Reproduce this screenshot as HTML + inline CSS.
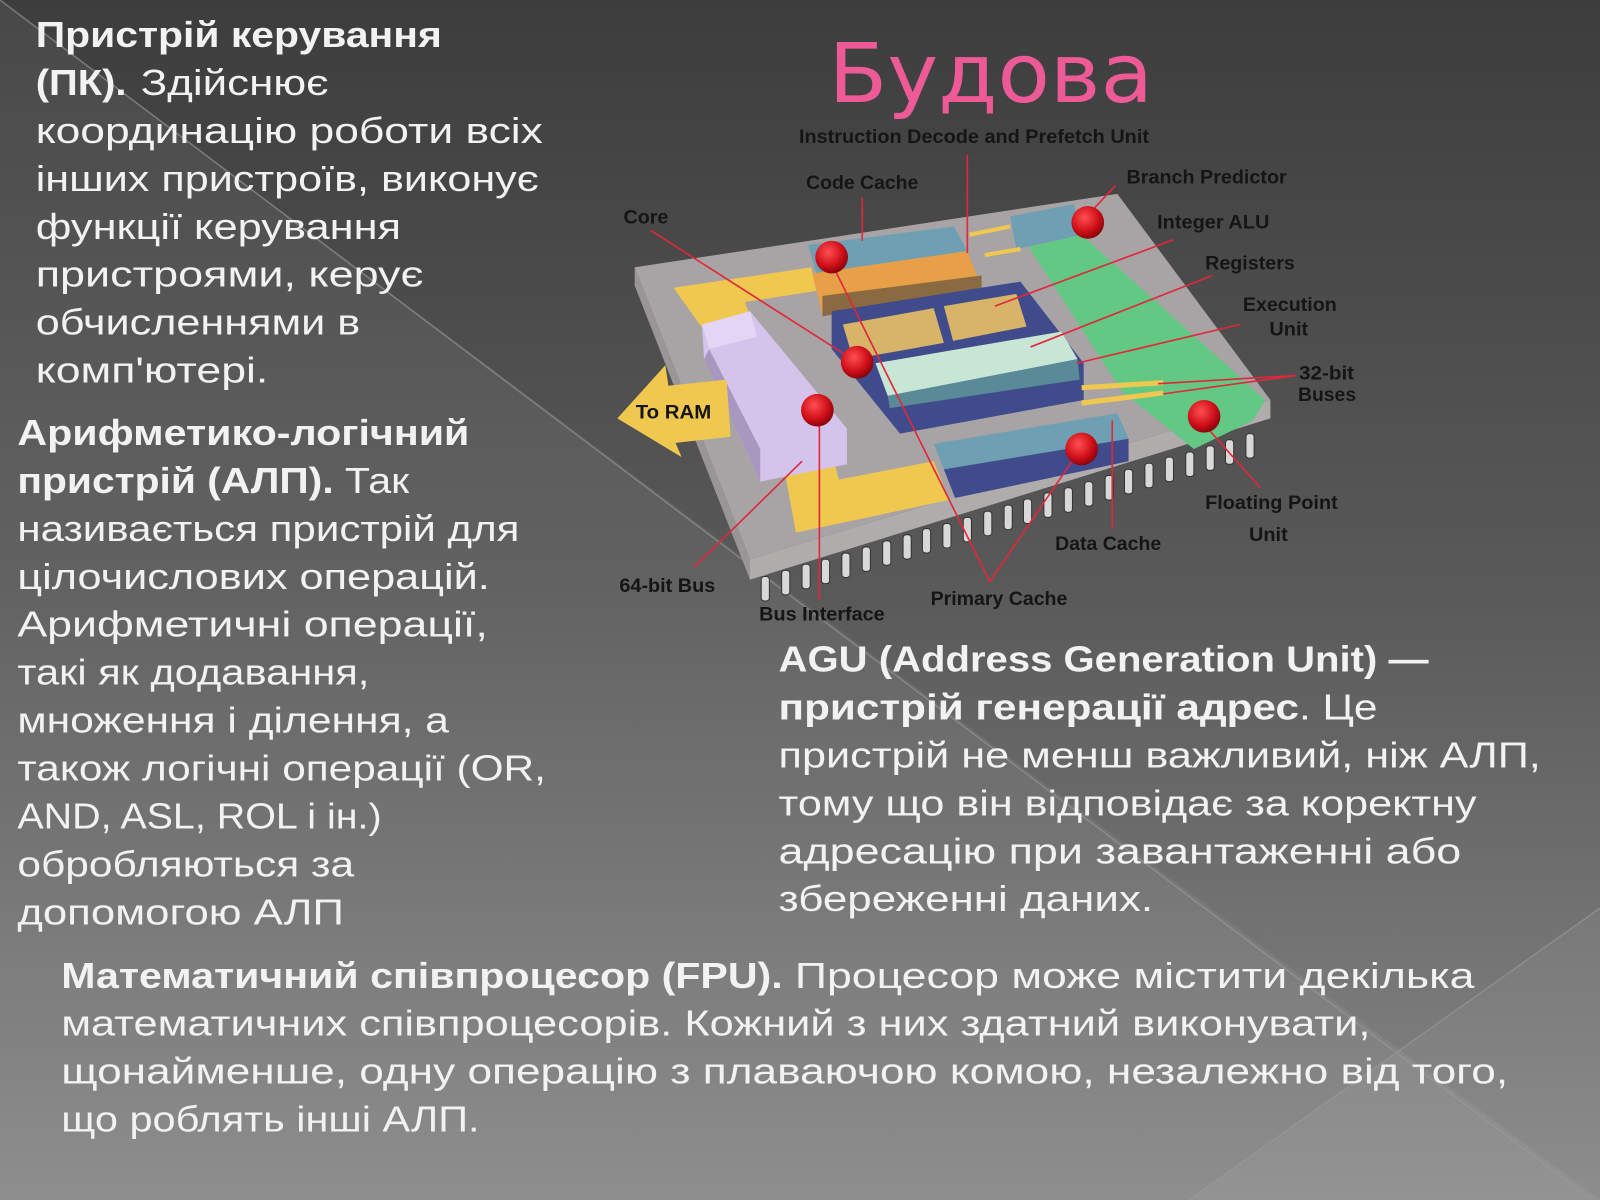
<!DOCTYPE html>
<html><head><meta charset="utf-8"><style>
html,body{margin:0;padding:0;background:#555;}
svg{display:block}
.t{font-family:"Liberation Sans","DejaVu Sans",sans-serif;fill:#f2f2f2;font-size:35px}
.b{font-weight:bold}
.l{font-family:"Liberation Sans",sans-serif;font-weight:bold;font-size:19px;fill:#151515}
</style></head><body>
<svg width="1600" height="1200" viewBox="0 0 1568 1176" xmlns="http://www.w3.org/2000/svg">
<defs>
<linearGradient id="bg" x1="0" y1="0" x2="0" y2="1">
<stop offset="0" stop-color="#3d3d3d"/><stop offset="0.5" stop-color="#5a5a5a"/><stop offset="1" stop-color="#878787"/>
</linearGradient>
<radialGradient id="ball" cx="0.4" cy="0.35" r="0.7"><stop offset="0" stop-color="#ff5050"/><stop offset="0.6" stop-color="#d0101a"/><stop offset="1" stop-color="#800008"/></radialGradient>
<g id="pin"><rect x="-4" y="0" width="8" height="24" rx="3" fill="#d8d8d8" stroke="#333" stroke-width="1"/></g>
</defs>
<rect width="1568" height="1176" fill="url(#bg)"/>
<polygon points="0,0 1568,1176 0,1176" fill="#ffffff" opacity="0.06"/>
<polygon points="1568,890 1165,1176 1568,1176" fill="#ffffff" opacity="0.05"/>
<line x1="0" y1="0" x2="1560" y2="1176" stroke="#9a9a9a" stroke-width="1.5" opacity="0.6"/>
<line x1="1165" y1="1176" x2="1568" y2="890" stroke="#9a9a9a" stroke-width="1.5" opacity="0.6"/>

<!-- title -->
<text x="812" y="100" style="font-family:'DejaVu Sans',sans-serif;font-size:80px;fill:#ee5a95" textLength="318" lengthAdjust="spacingAndGlyphs">Будова</text>

<!-- chip -->
<polygon points="622,262 735,548 735,568 622,280" fill="#9a9696"/>
<polygon points="735,548 1245,392 1245,410 735,568" fill="#b0acac"/>
<g>
<use href="#pin" x="750" y="565"/><use href="#pin" x="770" y="559"/><use href="#pin" x="790" y="553"/><use href="#pin" x="809" y="548"/><use href="#pin" x="829" y="542"/><use href="#pin" x="849" y="536"/><use href="#pin" x="869" y="530"/><use href="#pin" x="889" y="524"/><use href="#pin" x="908" y="518"/><use href="#pin" x="928" y="513"/><use href="#pin" x="948" y="507"/><use href="#pin" x="968" y="501"/><use href="#pin" x="988" y="495"/><use href="#pin" x="1007" y="489"/><use href="#pin" x="1027" y="483"/><use href="#pin" x="1047" y="478"/><use href="#pin" x="1067" y="472"/><use href="#pin" x="1087" y="466"/><use href="#pin" x="1106" y="460"/><use href="#pin" x="1126" y="454"/><use href="#pin" x="1146" y="448"/><use href="#pin" x="1166" y="443"/><use href="#pin" x="1186" y="437"/><use href="#pin" x="1205" y="431"/><use href="#pin" x="1225" y="425"/>
</g>
<polygon points="622,262 1095,190 1245,392 735,548" fill="#a8a4a6"/>
<!-- yellow bus L -->
<polygon points="660,282 795,262 800,285 730,296 745,335 705,345" fill="#f0c850"/>
<polygon points="765,440 812,432 822,470 915,452 930,490 780,522" fill="#f0c850"/>
<!-- lavender block -->
<polygon points="688,318 735,305 830,420 830,455 745,472 690,352" fill="#d4c4ec"/>
<polygon points="688,318 735,305 742,330 695,342" fill="#e2d6f4"/>
<polygon points="690,352 745,472 745,440 695,342" fill="#a898c0"/>
<!-- code cache -->
<polygon points="792,240 935,222 948,246 800,268" fill="#6f9fb2"/>
<!-- prefetch orange -->
<polygon points="796,268 948,246 962,282 806,308" fill="#e8a048"/>
<polygon points="806,290 962,270 962,282 806,310" fill="#8a6a40"/>
<!-- core frame navy -->
<polygon points="815,305 1000,276 1062,356 1062,392 882,425 815,342" fill="#404b8c"/>
<polygon points="826,318 915,302 925,336 836,352" fill="#d8b468"/>
<polygon points="925,300 996,288 1006,320 934,334" fill="#d8b468"/>
<polygon points="858,356 1040,325 1056,352 870,388" fill="#c8e6d6"/>
<polygon points="870,388 1056,352 1058,372 872,400" fill="#5a8a98"/>
<!-- branch predictor -->
<polygon points="990,212 1052,200 1062,230 996,244" fill="#6f9fb2"/>
<!-- green -->
<polygon points="1008,242 1060,230 1240,392 1228,412 1170,440 1100,384" fill="#62c884"/>
<!-- yellow small buses -->
<line x1="950" y1="230" x2="990" y2="222" stroke="#f0c850" stroke-width="4"/>
<line x1="965" y1="250" x2="1000" y2="244" stroke="#f0c850" stroke-width="4"/>
<line x1="1060" y1="380" x2="1140" y2="375" stroke="#f0c850" stroke-width="5"/>
<line x1="1060" y1="395" x2="1140" y2="385" stroke="#f0c850" stroke-width="5"/>
<!-- data cache -->
<polygon points="915,435 1095,405 1106,430 925,460" fill="#6f9fb2"/>
<polygon points="925,460 1106,430 1106,452 936,488" fill="#404b8c"/>
<!-- To RAM arrow -->
<polygon points="605,410 652,358 655,378 712,372 716,428 662,434 668,448" fill="#f0c850"/>
<text x="623" y="410" class="l" textLength="74" lengthAdjust="spacingAndGlyphs">To RAM</text>

<!-- red lines -->
<g stroke="#e0283a" stroke-width="1.6" fill="none">
<line x1="638" y1="226" x2="840" y2="355"/>
<line x1="845" y1="194" x2="845" y2="236"/>
<line x1="948" y1="152" x2="948" y2="248"/>
<line x1="1093" y1="182" x2="1065" y2="212"/>
<line x1="1150" y1="235" x2="975" y2="300"/>
<line x1="1188" y1="270" x2="1010" y2="340"/>
<line x1="1215" y1="318" x2="1055" y2="356"/>
<line x1="1270" y1="368" x2="1135" y2="376"/>
<line x1="1270" y1="368" x2="1140" y2="386"/>
<line x1="1235" y1="478" x2="1182" y2="418"/>
<line x1="1090" y1="518" x2="1090" y2="412"/>
<polyline points="815,258 970,570 1052,450"/>
<line x1="803" y1="588" x2="803" y2="405"/>
<line x1="680" y1="556" x2="786" y2="452"/>
</g>
<g fill="url(#ball)">
<circle cx="815" cy="252" r="16"/><circle cx="840" cy="355" r="16"/><circle cx="801" cy="402" r="16"/>
<circle cx="1066" cy="218" r="16"/><circle cx="1060" cy="440" r="16"/><circle cx="1180" cy="408" r="16"/>
</g>

<!-- chip labels -->
<text x="783" y="140" class="l" textLength="343" lengthAdjust="spacingAndGlyphs">Instruction Decode and Prefetch Unit</text>
<text x="790" y="185" class="l" textLength="110" lengthAdjust="spacingAndGlyphs">Code Cache</text>
<text x="1104" y="180" class="l" textLength="157" lengthAdjust="spacingAndGlyphs">Branch Predictor</text>
<text x="611" y="219" class="l" textLength="44" lengthAdjust="spacingAndGlyphs">Core</text>
<text x="1134" y="224" class="l" textLength="110" lengthAdjust="spacingAndGlyphs">Integer ALU</text>
<text x="1181" y="264" class="l" textLength="88" lengthAdjust="spacingAndGlyphs">Registers</text>
<text x="1218" y="305" class="l" textLength="92" lengthAdjust="spacingAndGlyphs">Execution</text>
<text x="1244" y="329" class="l" textLength="38" lengthAdjust="spacingAndGlyphs">Unit</text>
<text x="1273" y="372" class="l" textLength="54" lengthAdjust="spacingAndGlyphs">32-bit</text>
<text x="1272" y="393" class="l" textLength="57" lengthAdjust="spacingAndGlyphs">Buses</text>
<text x="1181" y="499" class="l" textLength="130" lengthAdjust="spacingAndGlyphs">Floating Point</text>
<text x="1224" y="530" class="l" textLength="38" lengthAdjust="spacingAndGlyphs">Unit</text>
<text x="1034" y="539" class="l" textLength="104" lengthAdjust="spacingAndGlyphs">Data Cache</text>
<text x="607" y="580" class="l" textLength="94" lengthAdjust="spacingAndGlyphs">64-bit Bus</text>
<text x="912" y="593" class="l" textLength="134" lengthAdjust="spacingAndGlyphs">Primary Cache</text>
<text x="744" y="608" class="l" textLength="123" lengthAdjust="spacingAndGlyphs">Bus Interface</text>

<!-- block 1 -->
<text class="t b" x="35" y="46" textLength="398" lengthAdjust="spacingAndGlyphs">Пристрій керування</text>
<text class="t b" x="35" y="93" textLength="89" lengthAdjust="spacingAndGlyphs">(ПК).</text>
<text class="t" x="138" y="93" textLength="184" lengthAdjust="spacingAndGlyphs">Здійснює</text>
<text class="t" x="35" y="140" textLength="497" lengthAdjust="spacingAndGlyphs">координацію роботи всіх</text>
<text class="t" x="35" y="187" textLength="493" lengthAdjust="spacingAndGlyphs">інших пристроїв, виконує</text>
<text class="t" x="35" y="234" textLength="358" lengthAdjust="spacingAndGlyphs">функції керування</text>
<text class="t" x="35" y="281" textLength="380" lengthAdjust="spacingAndGlyphs">пристроями, керує</text>
<text class="t" x="35" y="328" textLength="318" lengthAdjust="spacingAndGlyphs">обчисленнями в</text>
<text class="t" x="35" y="375" textLength="228" lengthAdjust="spacingAndGlyphs">комп'ютері.</text>

<!-- block 2 -->
<text class="t b" x="17" y="436" textLength="443" lengthAdjust="spacingAndGlyphs">Арифметико-логічний</text>
<text class="t b" x="17" y="483" textLength="310" lengthAdjust="spacingAndGlyphs">пристрій (АЛП).</text>
<text class="t" x="338" y="483" textLength="63" lengthAdjust="spacingAndGlyphs">Так</text>
<text class="t" x="17" y="530" textLength="492" lengthAdjust="spacingAndGlyphs">називається пристрій для</text>
<text class="t" x="17" y="577" textLength="463" lengthAdjust="spacingAndGlyphs">цілочислових операцій.</text>
<text class="t" x="17" y="624" textLength="461" lengthAdjust="spacingAndGlyphs">Арифметичні  операції,</text>
<text class="t" x="17" y="671" textLength="345" lengthAdjust="spacingAndGlyphs">такі як додавання,</text>
<text class="t" x="17" y="718" textLength="423" lengthAdjust="spacingAndGlyphs">множення і ділення, а</text>
<text class="t" x="17" y="765" textLength="518" lengthAdjust="spacingAndGlyphs">також логічні операції (OR,</text>
<text class="t" x="17" y="812" textLength="357" lengthAdjust="spacingAndGlyphs">AND, ASL, ROL і ін.)</text>
<text class="t" x="17" y="859" textLength="330" lengthAdjust="spacingAndGlyphs">обробляються за</text>
<text class="t" x="17" y="906" textLength="320" lengthAdjust="spacingAndGlyphs">допомогою АЛП</text>

<!-- block 3 -->
<text class="t b" x="763" y="658" textLength="637" lengthAdjust="spacingAndGlyphs">AGU (Address Generation Unit) —</text>
<text class="t b" x="763" y="705" textLength="510" lengthAdjust="spacingAndGlyphs">пристрій генерації адрес</text>
<text class="t" x="1273" y="705" textLength="77" lengthAdjust="spacingAndGlyphs">. Це</text>
<text class="t" x="763" y="752" textLength="747" lengthAdjust="spacingAndGlyphs">пристрій не менш важливий, ніж АЛП,</text>
<text class="t" x="763" y="799" textLength="684" lengthAdjust="spacingAndGlyphs">тому що він відповідає за коректну</text>
<text class="t" x="763" y="846" textLength="669" lengthAdjust="spacingAndGlyphs">адресацію при завантаженні або</text>
<text class="t" x="763" y="893" textLength="367" lengthAdjust="spacingAndGlyphs">збереженні даних.</text>

<!-- block 4 -->
<text class="t b" x="60" y="968" textLength="707" lengthAdjust="spacingAndGlyphs">Математичний співпроцесор (FPU).</text>
<text class="t" x="779" y="968" textLength="666" lengthAdjust="spacingAndGlyphs">Процесор може містити декілька</text>
<text class="t" x="60" y="1015" textLength="1283" lengthAdjust="spacingAndGlyphs">математичних співпроцесорів. Кожний з них здатний виконувати,</text>
<text class="t" x="60" y="1062" textLength="1418" lengthAdjust="spacingAndGlyphs">щонайменше, одну операцію з плаваючою комою, незалежно від того,</text>
<text class="t" x="60" y="1109" textLength="410" lengthAdjust="spacingAndGlyphs">що роблять інші АЛП.</text>
</svg>
</body></html>
